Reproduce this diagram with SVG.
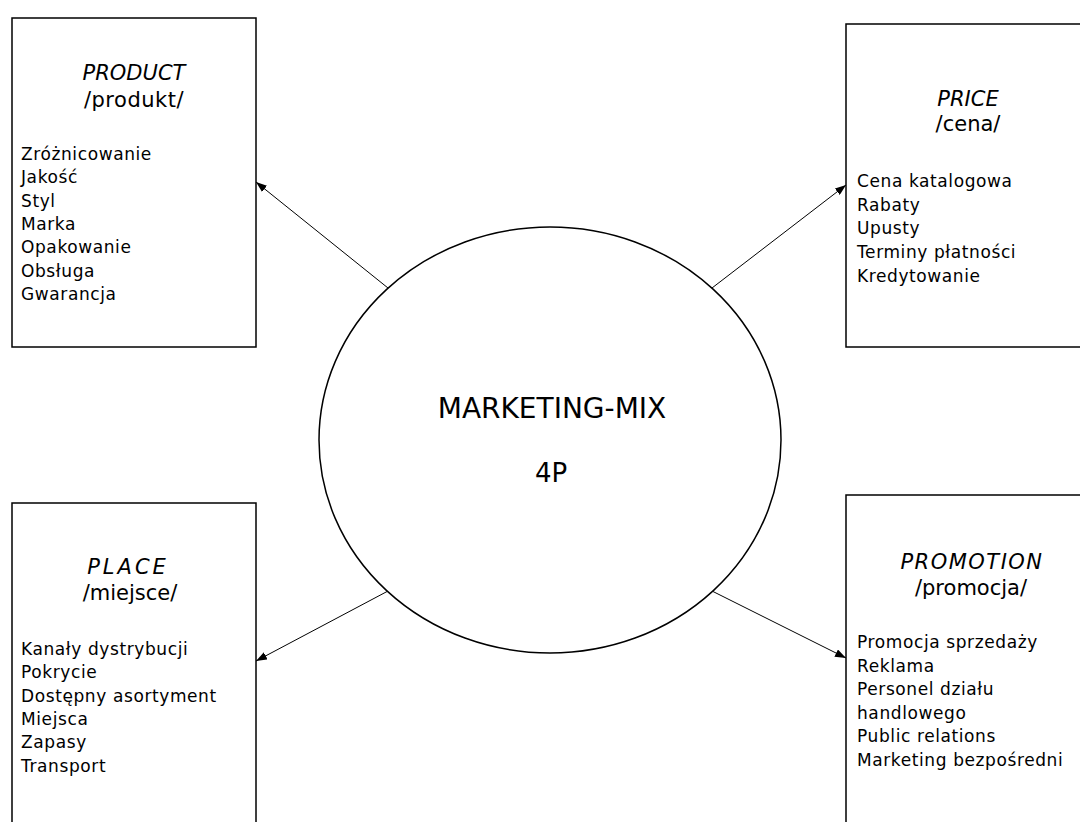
<svg xmlns="http://www.w3.org/2000/svg" width="1080" height="822" viewBox="0 0 1080 822">
<defs>
<style>
text{font-family:"DejaVu Sans","Liberation Sans",sans-serif;fill:#000}
.box{fill:#fff;stroke:#000;stroke-width:1.5}
.ttl{font-size:21px;font-style:italic;text-anchor:middle}
.sub{font-size:21px;text-anchor:middle}
.it{font-size:17px;letter-spacing:0.6px}
.big{font-size:28px;text-anchor:middle}
.con{stroke:#000;stroke-width:1;fill:none;marker-end:url(#ah)}
</style>
<marker id="ah" markerUnits="userSpaceOnUse" markerWidth="11" markerHeight="8" refX="11" refY="4" orient="auto">
<path d="M0,0 L11,4 L0,8 z" fill="#000"/>
</marker>
</defs>
<rect width="1080" height="822" fill="#fff"/>
<g id="connectors">
<line class="con" x1="388" y1="288" x2="256" y2="182"/>
<line class="con" x1="712" y1="288" x2="846" y2="185"/>
<line class="con" x1="388" y1="591" x2="256" y2="661"/>
<line class="con" x1="712" y1="591" x2="846" y2="658"/>
</g>
<g id="center">
<ellipse cx="550" cy="440" rx="231" ry="213" fill="#fff" stroke="#000" stroke-width="1.5"/>
<text class="big" x="552" y="418">MARKETING-MIX</text>
<text class="big" x="551" y="482" style="font-size:26px">4P</text>
</g>
<g id="product">
<rect class="box" x="12" y="18" width="244" height="329"/>
<text class="ttl" x="134" y="80">PRODUCT</text>
<text class="sub" x="134" y="107" style="letter-spacing:0.5px">/produkt/</text>
<text class="it" x="21" y="160">Zróżnicowanie</text>
<text class="it" x="21" y="183.3">Jakość</text>
<text class="it" x="21" y="206.6">Styl</text>
<text class="it" x="21" y="230">Marka</text>
<text class="it" x="21" y="253.3">Opakowanie</text>
<text class="it" x="21" y="276.6">Obsługa</text>
<text class="it" x="21" y="300">Gwarancja</text>
</g>
<g id="price">
<rect class="box" x="846" y="24" width="240" height="323"/>
<text class="ttl" x="968" y="106">PRICE</text>
<text class="sub" x="968" y="131">/cena/</text>
<text class="it" x="857" y="187">Cena katalogowa</text>
<text class="it" x="857" y="210.7">Rabaty</text>
<text class="it" x="857" y="234.4">Upusty</text>
<text class="it" x="857" y="258">Terminy płatności</text>
<text class="it" x="857" y="281.8">Kredytowanie</text>
</g>
<g id="place">
<rect class="box" x="12" y="503" width="244" height="340"/>
<text class="ttl" x="128" y="574" style="letter-spacing:3px">PLACE</text>
<text class="sub" x="130" y="600">/miejsce/</text>
<text class="it" x="21" y="655">Kanały dystrybucji</text>
<text class="it" x="21" y="678.3">Pokrycie</text>
<text class="it" x="21" y="701.6">Dostępny asortyment</text>
<text class="it" x="21" y="725">Miejsca</text>
<text class="it" x="21" y="748.3">Zapasy</text>
<text class="it" x="21" y="771.6">Transport</text>
</g>
<g id="promotion">
<rect class="box" x="846" y="495" width="240" height="340"/>
<text class="ttl" x="972" y="569" style="letter-spacing:1.5px">PROMOTION</text>
<text class="sub" x="971" y="595">/promocja/</text>
<text class="it" x="857" y="648">Promocja sprzedaży</text>
<text class="it" x="857" y="671.6">Reklama</text>
<text class="it" x="857" y="695.2">Personel działu</text>
<text class="it" x="857" y="718.8">handlowego</text>
<text class="it" x="857" y="742.4">Public relations</text>
<text class="it" x="857" y="766">Marketing bezpośredni</text>
</g>
</svg>
